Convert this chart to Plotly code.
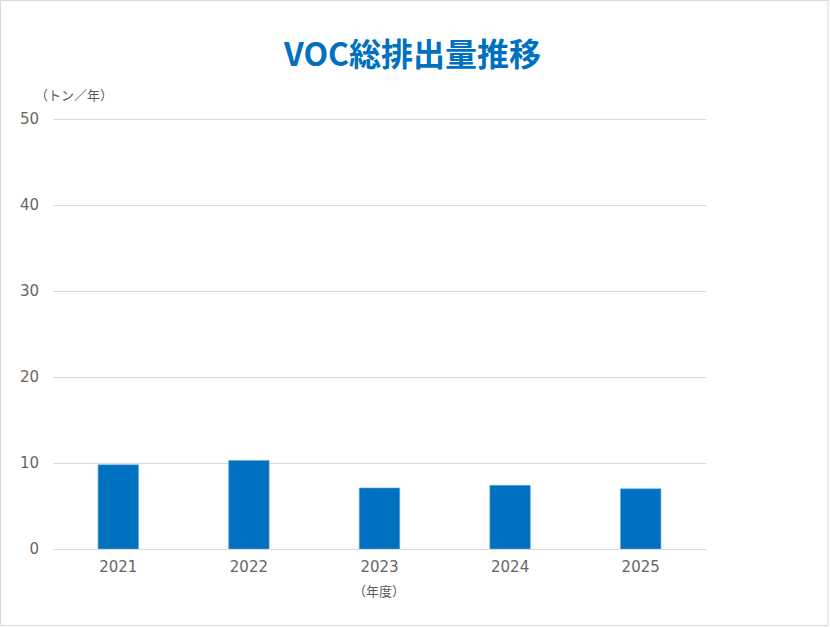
import plotly.graph_objects as go

years = ["2021", "2022", "2023", "2024", "2025"]
voc_emissions = [9.8, 10.3, 7.1, 7.4, 7.0]
y_ticks = [0, 10, 20, 30, 40, 50]

W, H = 830, 627
ML, MR, MT, MB = 53, 124, 116, 78
PW, PH = W - ML - MR, H - MT - MB
Y_TOP = 50 + 3 / 8.6

def px_x(px):
    return (px - ML) / PW

def px_y(py):
    return (H - MB - py) / PH

font_jp = "Noto Sans CJK JP, Noto Sans, sans-serif"
font_num = "DejaVu Sans, sans-serif"

fig = go.Figure(
    go.Bar(
        x=years,
        y=voc_emissions,
        marker=dict(color="#0070C0", line=dict(color="#6fa8dc", width=0.6)),
        hoverinfo="x+y",
    )
)

fig.update_layout(
    width=W,
    height=H,
    margin=dict(l=ML, r=MR, t=MT, b=MB),
    paper_bgcolor="white",
    plot_bgcolor="white",
    bargap=0.69,
    showlegend=False,
    font=dict(family=font_jp, color="#595959", size=14),
    title=dict(
        text="<b>VOC総排出量推移</b>",
        x=0.497,
        xanchor="center",
        y=1 - 55 / H,
        yanchor="middle",
        font=dict(family=font_jp, size=32, color="#0070C0"),
    ),
    xaxis=dict(
        showgrid=False,
        showline=False,
        ticks="",
        ticklabelstandoff=7,
        tickfont=dict(family=font_num, size=15, color="#666666"),
    ),
    yaxis=dict(
        range=[0, Y_TOP],
        tickvals=y_ticks,
        showgrid=True,
        gridcolor="#d9d9d9",
        gridwidth=1,
        zeroline=True,
        zerolinecolor="#d9d9d9",
        zerolinewidth=1,
        showline=False,
        ticks="",
        ticklabelstandoff=13,
        tickfont=dict(family=font_num, size=15, color="#666666"),
    ),
    annotations=[
        dict(
            text="（トン／年）",
            x=px_x(74),
            y=px_y(94),
            xref="paper",
            yref="paper",
            xanchor="center",
            yanchor="middle",
            showarrow=False,
            font=dict(size=13, color="#595959", family=font_jp),
        ),
        dict(
            text="（年度）",
            x=px_x(379),
            y=px_y(590),
            xref="paper",
            yref="paper",
            xanchor="center",
            yanchor="middle",
            showarrow=False,
            font=dict(size=13, color="#595959", family=font_jp),
        ),
    ],
    shapes=[
        dict(
            type="rect",
            xref="paper",
            yref="paper",
            x0=px_x(0.5),
            x1=px_x(828),
            y0=px_y(625.5),
            y1=px_y(0.5),
            line=dict(color="#d9d9d9", width=1),
            fillcolor="rgba(0,0,0,0)",
            layer="below",
        )
    ],
)

fig.write_html(
    "out.html",
    config={"displayModeBar": False},
    post_script="document.body.style.margin='0';",
)
